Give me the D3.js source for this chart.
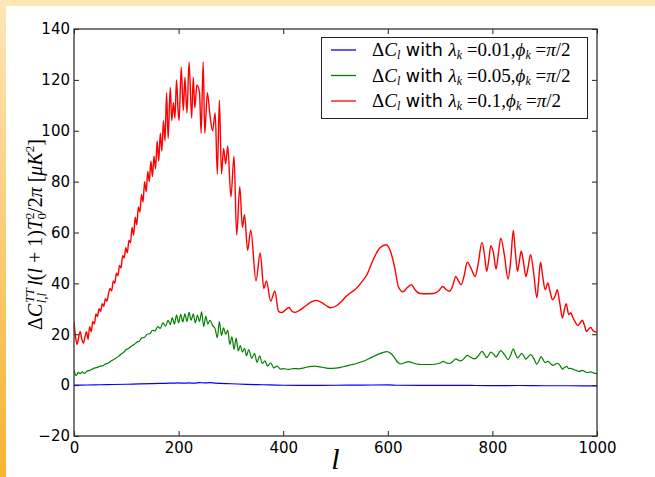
<!DOCTYPE html>
<html>
<head>
<meta charset="utf-8">
<script src="https://cdn.jsdelivr.net/npm/d3@7"></script>
<style>
  html, body { margin: 0; padding: 0; background: #fff; }
  svg { display: block; }
  .tick text { font-family: "DejaVu Sans", sans-serif; font-size: 15px; fill: #000; }
  .math { font-family: "Liberation Serif", serif; font-style: italic; }
  .rm { font-family: "Liberation Serif", serif; font-style: normal; }
  .sans { font-family: "DejaVu Sans", sans-serif; font-style: normal; }
</style>
</head>
<body>
<svg id="chart" width="655" height="477"></svg>
<script>
// tick values
const xTicks = [0, 200, 400, 600, 800, 1000];
const yTicks = [-20, 0, 20, 40, 60, 80, 100, 120, 140];

// [l, value]
const blueSeries = [
  [0, 0], [25, 0.05], [50, 0.15], [75, 0.25], [100, 0.35], [125, 0.5], [150, 0.6], [175, 0.72],
  [190, 0.8], [200, 0.85], [210, 0.75], [220, 0.85], [230, 0.8], [240, 1.0], [250, 0.85],
  [260, 0.95], [270, 0.8], [280, 0.7], [300, 0.55], [330, 0.3], [360, 0.15], [400, -0.05],
  [450, -0.1], [500, -0.05], [550, 0], [600, 0.1], [620, -0.05], [700, -0.1], [750, -0.12],
  [800, -0.2], [850, -0.15], [900, -0.25], [950, -0.25], [1000, -0.3]
];

const greenSeries = [
  [0, 6], [4, 3.8], [8, 5], [12, 4.5], [16, 5.2], [20, 4.6], [25, 5.5], [30, 5.8], [35, 6.3],
  [40, 6.8], [45, 7], [50, 7.5], [55, 7.6], [60, 8.3], [65, 8.6], [70, 9.3], [75, 10], [80, 10.6],
  [85, 11.3], [90, 12.2], [95, 12.9], [100, 14], [105, 14.5], [110, 15.4], [115, 16], [120, 16.9],
  [125, 17.3], [130, 18.6], [135, 18.8], [140, 20], [145, 20.2], [150, 21.5], [155, 21.3],
  [160, 23], [165, 22.3], [170, 24.5], [175, 23.2], [180, 25.5], [184, 23.8], [188, 26.5],
  [192, 24], [196, 27.5], [200, 24.5], [204, 27.8], [208, 24.8], [212, 28], [216, 25],
  [220, 28.6], [224, 25.5], [228, 28], [232, 24.5], [236, 27.5], [240, 25], [244, 28.8],
  [248, 23], [252, 27], [256, 24], [260, 25.5], [265, 23.5], [270, 22], [274, 18.6], [278, 25],
  [282, 19.5], [286, 22.5], [290, 20], [294, 21.5], [298, 16], [302, 19], [306, 14], [310, 18.5],
  [314, 13.5], [318, 15.5], [322, 13], [326, 14.5], [330, 11.5], [334, 14], [340, 10.5],
  [345, 12.5], [350, 9], [355, 11.5], [360, 8.5], [365, 9.5], [370, 7.5], [376, 8.8], [382, 6.8],
  [388, 7.5], [395, 6.3], [400, 6.5], [410, 6.2], [420, 6.5], [430, 6.4], [440, 6.8], [450, 7.3],
  [460, 7.5], [470, 7.2], [480, 6.8], [490, 6.6], [500, 6.7], [510, 7], [520, 7.5], [530, 8],
  [540, 8.5], [550, 9.2], [560, 10], [570, 11], [580, 12], [590, 12.8], [598, 13.2], [605, 12.6],
  [612, 11], [618, 9.2], [625, 8.3], [632, 8.8], [640, 9.2], [647, 8.8], [655, 8.3], [665, 8.1],
  [680, 8.1], [690, 8.2], [700, 8.7], [706, 9.3], [712, 8.7], [718, 8.5], [724, 9.2], [730, 10.3],
  [735, 9.8], [740, 9.5], [746, 10.5], [752, 11.7], [758, 11], [766, 10.3], [773, 11.5],
  [780, 13.3], [785, 12], [789, 10.8], [793, 11.8], [797, 13], [802, 12.3], [807, 11],
  [811, 12.2], [816, 13.6], [823, 12], [830, 10], [835, 11.8], [840, 14.3], [844, 12.2],
  [848, 10.7], [852, 11.5], [856, 12.5], [860, 11.5], [864, 10.2], [868, 11], [873, 12],
  [879, 10.5], [885, 8.2], [889, 9.5], [893, 11.2], [897, 10], [901, 8.8], [906, 9.3],
  [911, 8.5], [916, 7.8], [920, 8.2], [925, 8.6], [930, 7.5], [934, 6.3], [938, 7], [942, 7.4],
  [946, 6.5], [950, 6.6], [955, 6.2], [960, 5.8], [966, 5.4], [972, 5.8], [977, 5.3], [982, 4.9],
  [988, 5.2], [994, 4.7], [1000, 4.5]
];

const redSeries = [
  [0, 25], [3, 19], [6, 16], [9, 19], [12, 21], [15, 18], [18, 16.5], [21, 19], [24, 21], [27, 18],
  [30, 23], [33, 21], [36, 25], [39, 24], [42, 28], [45, 27], [48, 30], [51, 29], [54, 32],
  [57, 31], [60, 34], [63, 33], [66, 36], [69, 38], [72, 37], [75, 41], [78, 40], [81, 44],
  [84, 43], [87, 47], [90, 46], [93, 51], [96, 50], [99, 54], [102, 52], [105, 57], [108, 56],
  [111, 62], [114, 59], [117, 66], [120, 63], [123, 70], [126, 68], [129, 75], [132, 72],
  [135, 80], [138, 76], [141, 84], [144, 80], [147, 88], [150, 82], [153, 90], [156, 85],
  [159, 96], [162, 88], [165, 99], [168, 92], [171, 104], [174, 96], [177, 115], [180, 97],
  [184, 117], [187, 104], [190, 111], [193, 105], [196, 120], [199, 108], [201, 104], [205, 125],
  [209, 108], [212, 121], [216, 107], [220, 127], [225, 105], [228, 121], [231, 109], [235, 118],
  [240, 115], [243, 99], [247, 127], [250, 99], [255, 115], [260, 106], [265, 100], [270, 107],
  [274, 83], [278, 112], [282, 83], [286, 93], [290, 87], [294, 94], [300, 74], [306, 90],
  [311, 59], [317, 78], [322, 62], [326, 67], [332, 53], [338, 61], [348, 41], [356, 52],
  [363, 38], [368, 41], [376, 33], [384, 37], [391, 29], [397, 28.5], [404, 29.5], [411, 30.5],
  [417, 29], [423, 28.6], [432, 29.5], [442, 31], [452, 32.5], [463, 33.3], [474, 32.4],
  [482, 31.3], [490, 30.4], [502, 31.2], [512, 33], [521, 35], [531, 36.6], [541, 38.3],
  [550, 40.5], [560, 43.4], [572, 49.3], [585, 54], [597, 55.2], [604, 53.2], [614, 45.4],
  [620, 38.8], [629, 36.7], [637, 38.3], [645, 39.5], [652, 37.5], [662, 36], [672, 35.9],
  [687, 36], [697, 37], [705, 38.8], [712, 37.5], [718, 36.9], [724, 39], [730, 42.7], [735, 41],
  [740, 39.5], [746, 43], [752, 48.3], [759, 46], [767, 42.7], [773, 48], [780, 56.1], [785, 51],
  [789, 44.7], [793, 49], [797, 54.8], [802, 52], [807, 45.6], [811, 51], [816, 57.8], [823, 51],
  [830, 41.7], [835, 49], [840, 60.8], [844, 52], [848, 44.7], [851, 48], [855, 52.6], [859, 49],
  [864, 42.7], [868, 46], [873, 51.3], [879, 44], [885, 34.3], [888, 40], [892, 48.3], [896, 43],
  [901, 37.5], [906, 40.2], [910, 37], [915, 33.6], [920, 35], [924, 37.5], [929, 32],
  [934, 26.4], [938, 30], [941, 32], [946, 27.7], [950, 28.5], [953, 27], [958, 25], [963, 23.4],
  [968, 24.5], [972, 25.5], [976, 23.5], [980, 21.1], [984, 22], [988, 22.7], [992, 21.5],
  [996, 21], [1000, 20.8]
];

const legendLabels = ["0.01", "0.05", "0.1"];
const seriesColors = ["#0000ff", "#008000", "#ff0000"];

const svg = d3.select("#chart");
const margins = { top: 29, right: 58, bottom: 41, left: 74 };
const W = 655, H = 477;

// page decoration: pale top band and orange gradient on the left
const defs = svg.append("defs");
const grad = defs.append("linearGradient").attr("id", "sideGrad")
  .attr("x1", 0).attr("y1", 0).attr("x2", 0).attr("y2", 1);
grad.append("stop").attr("offset", "0%").attr("stop-color", "#fde6b8");
grad.append("stop").attr("offset", "100%").attr("stop-color", "#fcb232");
svg.append("rect").attr("x", 0).attr("y", 0).attr("width", W).attr("height", 6).attr("fill", "#ffe5b3");
svg.append("rect").attr("x", 0).attr("y", 0).attr("width", 6).attr("height", H).attr("fill", "url(#sideGrad)");

const x = d3.scaleLinear().domain([0, 1000]).range([margins.left, W - margins.right]);
const y = d3.scaleLinear().domain([-20, 140]).range([H - margins.bottom, margins.top]);

const clip = defs.append("clipPath").attr("id", "plotClip");
clip.append("rect").attr("x", x(0)).attr("y", y(140)).attr("width", x(1000) - x(0)).attr("height", y(-20) - y(140));

const line = d3.line()
  .x(d => x(d[0]))
  .y(d => y(d[1]))
  .curve(d3.curveMonotoneX);

const plot = svg.append("g").attr("clip-path", "url(#plotClip)");
[blueSeries, greenSeries, redSeries].forEach((s, i) => {
  plot.append("path")
    .attr("d", line(s))
    .attr("fill", "none")
    .attr("stroke", seriesColors[i])
    .attr("stroke-width", i === 2 ? 1.4 : 1.2)
    .attr("stroke-linejoin", "round");
});

// axes, ticks pointing inward on all four sides
const fmt = d3.format("d");
svg.append("g").attr("transform", `translate(0,${y(-20)})`)
  .call(d3.axisBottom(x).tickValues(xTicks).tickFormat(fmt).tickSizeInner(-5).tickSizeOuter(0).tickPadding(6))
  .call(g => g.select(".domain").remove());
svg.append("g").attr("transform", `translate(0,${y(140)})`)
  .call(d3.axisTop(x).tickValues(xTicks).tickFormat("").tickSizeInner(-5).tickSizeOuter(0))
  .call(g => g.select(".domain").remove());
svg.append("g").attr("transform", `translate(${x(0)},0)`)
  .call(d3.axisLeft(y).tickValues(yTicks).tickFormat(fmt).tickSizeInner(-5).tickSizeOuter(0).tickPadding(4))
  .call(g => g.select(".domain").remove());
svg.append("g").attr("transform", `translate(${x(1000)},0)`)
  .call(d3.axisRight(y).tickValues(yTicks).tickFormat("").tickSizeInner(-5).tickSizeOuter(0))
  .call(g => g.select(".domain").remove());
svg.selectAll(".tick line").attr("stroke", "#222");

svg.append("rect")
  .attr("x", x(0)).attr("y", y(140))
  .attr("width", x(1000) - x(0)).attr("height", y(-20) - y(140))
  .attr("fill", "none").attr("stroke", "#333").attr("stroke-width", 1.3);

// x label
svg.append("text")
  .attr("class", "math")
  .attr("x", (x(0) + x(1000)) / 2).attr("y", 469)
  .attr("text-anchor", "middle")
  .attr("font-size", 30)
  .text("l");

// y label
const yl = svg.append("text")
  .attr("transform", `translate(42,${(y(140) + y(-20)) / 2 + 2}) rotate(-90)`)
  .attr("text-anchor", "middle")
  .attr("font-size", 20)
  .attr("class", "rm");
yl.append("tspan").text("Δ");
yl.append("tspan").attr("class", "math").text("C");
yl.append("tspan").attr("class", "math").attr("font-size", 13).attr("dx", 1).attr("dy", -8).text("TT");
yl.append("tspan").attr("class", "math").attr("font-size", 13).attr("dx", -15).attr("dy", 12).text("l,l");
yl.append("tspan").attr("class", "math").attr("dx", 7).attr("dy", -4).text("l");
yl.append("tspan").text("(");
yl.append("tspan").attr("class", "math").text("l");
yl.append("tspan").text(" + 1)");
yl.append("tspan").attr("class", "math").text("T");
yl.append("tspan").attr("font-size", 13).attr("dy", -8).text("2");
yl.append("tspan").attr("font-size", 13).attr("dx", -7).attr("dy", 12).text("0");
yl.append("tspan").attr("dy", -4).text("/2");
yl.append("tspan").attr("class", "math").text("π");
yl.append("tspan").attr("dx", 5).text("[");
yl.append("tspan").attr("class", "math").text("μK");
yl.append("tspan").attr("font-size", 13).attr("dy", -8).text("2");
yl.append("tspan").attr("dy", 8).text("]");

// legend
const lg = svg.append("g");
lg.append("rect")
  .attr("x", 321.5).attr("y", 37.5).attr("width", 266).attr("height", 81)
  .attr("fill", "#fff").attr("stroke", "#222").attr("stroke-width", 1);
legendLabels.forEach((lab, i) => {
  const yy = 50 + i * 25.5;
  lg.append("line")
    .attr("x1", 331).attr("x2", 356).attr("y1", yy).attr("y2", yy)
    .attr("stroke", seriesColors[i]).attr("stroke-width", 1.3);
  const t = lg.append("text").attr("x", 372).attr("y", yy + 6).attr("font-size", 19).attr("class", "rm");
  t.append("tspan").text("Δ");
  t.append("tspan").attr("class", "math").text("C");
  t.append("tspan").attr("class", "math").attr("font-size", 12).attr("dy", 3).text("l");
  t.append("tspan").attr("class", "sans").attr("font-size", 17.5).attr("dy", -3).text(" with ");
  t.append("tspan").attr("class", "math").text("λ");
  t.append("tspan").attr("class", "math").attr("font-size", 12).attr("dy", 3).text("k");
  t.append("tspan").attr("dy", -3).text(" =" + lab + ",");
  t.append("tspan").attr("class", "math").text("ϕ");
  t.append("tspan").attr("class", "math").attr("font-size", 12).attr("dy", 3).text("k");
  t.append("tspan").attr("dy", -3).text(" =");
  t.append("tspan").attr("class", "math").text("π");
  t.append("tspan").text("/2");
});
</script>
</body>
</html>
